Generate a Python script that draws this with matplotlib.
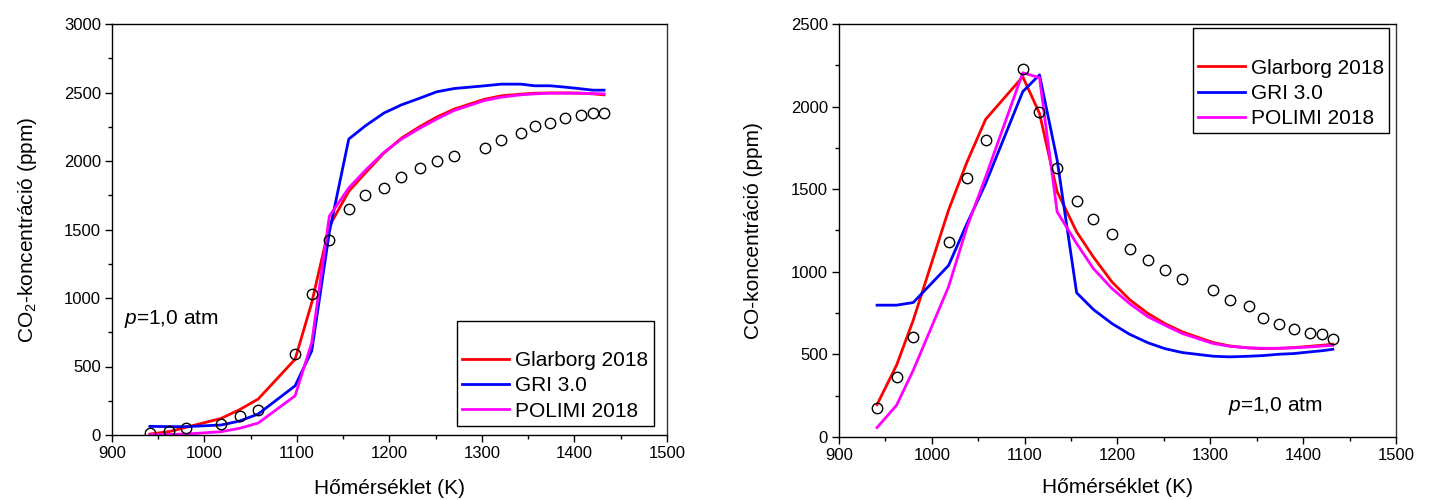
import matplotlib
matplotlib.use("Agg")
import matplotlib.pyplot as plt
from matplotlib.lines import Line2D
from matplotlib.ticker import MultipleLocator

plt.rcParams['font.family'] = ['Liberation Sans', 'DejaVu Sans']
plt.rcParams['mathtext.fontset'] = 'custom'
plt.rcParams['mathtext.rm'] = 'Liberation Sans'
plt.rcParams['mathtext.it'] = 'Liberation Sans:italic'

# Temperatures (K)
T = [941, 962, 980, 1018, 1038, 1058, 1098, 1116, 1135, 1156, 1174, 1194, 1213,
     1233, 1251, 1270, 1303, 1321, 1342, 1357, 1374, 1390, 1407, 1420, 1432]

# CO2 concentration (ppm)
co2_exp = [15, 27, 51, 82, 136, 184, 590, 1032, 1427, 1650, 1752, 1806, 1883,
           1947, 2002, 2034, 2097, 2155, 2206, 2255, 2277, 2311, 2333, 2347, 2350]
co2_glarborg = [7, 25, 56, 121, 185, 262, 553, 966, 1524, 1779, 1913, 2058, 2167,
                2252, 2320, 2379, 2451, 2476, 2488, 2495, 2497, 2497, 2495, 2490, 2483]
co2_gri = [63, 61, 61, 73, 102, 153, 359, 614, 1480, 2160, 2257, 2350, 2410,
           2459, 2505, 2529, 2549, 2561, 2561, 2549, 2549, 2539, 2527, 2517, 2517]
co2_polimi = [2, 4, 7, 24, 49, 87, 286, 675, 1597, 1803, 1932, 2063, 2160,
              2240, 2306, 2369, 2442, 2466, 2483, 2490, 2495, 2495, 2495, 2492, 2490]

# CO concentration (ppm)
co_exp = [178, 364, 606, 1178, 1568, 1800, 2230, 1967, 1630, 1428, 1317, 1228, 1139,
          1069, 1008, 958, 889, 828, 792, 723, 685, 652, 630, 626, 594]
co_glarborg = [196, 434, 707, 1373, 1666, 1923, 2181, 1959, 1485, 1242, 1090, 939, 832,
               747, 687, 636, 572, 551, 539, 535, 537, 541, 549, 555, 562]
co_gri = [798, 798, 814, 1038, 1293, 1535, 2091, 2192, 1677, 873, 772, 687, 622,
          570, 535, 511, 489, 485, 489, 493, 501, 505, 515, 522, 531]
co_polimi = [57, 192, 404, 909, 1272, 1575, 2205, 2175, 1363, 1171, 1020, 899, 808,
             727, 677, 626, 566, 549, 539, 537, 537, 540, 545, 550, 555]

labels = ["Glarborg 2018", "GRI 3.0", "POLIMI 2018"]
colors = ["#ff0000", "#0000ff", "#ff00ff"]

fig = plt.figure(figsize=(14.3, 5.0), dpi=100)
ax1 = fig.add_axes([0.0783, 0.130, 0.3881, 0.822])
ax2 = fig.add_axes([0.5867, 0.126, 0.3895, 0.826])


def style_axes(ax, ymax, ymajor, xpad):
    ax.set_xlim(900, 1500)
    ax.set_ylim(0, ymax)
    ax.xaxis.set_major_locator(MultipleLocator(100))
    ax.xaxis.set_minor_locator(MultipleLocator(50))
    ax.yaxis.set_major_locator(MultipleLocator(ymajor))
    ax.yaxis.set_minor_locator(MultipleLocator(ymajor / 2))
    ax.tick_params(which='both', direction='out', top=False, right=False,
                   labelsize=12, width=1.0, color='black', pad=3)
    ax.tick_params(which='major', length=5)
    ax.tick_params(which='minor', length=3)
    for s in ax.spines.values():
        s.set_linewidth(1.0)
        s.set_color('black')
    ax.spines['right'].set_color('#333333')
    ax.set_xlabel("Hőmérséklet (K)", fontsize=15, labelpad=xpad)


def draw(ax, exp, models):
    for vals, lab, col in zip(models, labels, colors):
        ax.plot(T, vals, color=col, lw=2.0, label=lab, zorder=2)
    ax.plot(T, exp, linestyle='none', marker='o', markersize=7.5,
            markerfacecolor='none', markeredgecolor='black',
            markeredgewidth=1.0, zorder=3)


def add_legend(ax, **kw):
    blank = Line2D([], [], linestyle='none')
    handles = [blank] + [Line2D([], [], color=c, lw=2.0) for c in colors]
    leg = ax.legend(handles, [" "] + labels, fontsize=15, frameon=True,
                    fancybox=False, edgecolor='black', framealpha=1,
                    handlelength=2.25, handletextpad=0.3, labelspacing=0.3,
                    borderpad=0.25, borderaxespad=0, **kw)
    leg.get_frame().set_linewidth(1.0)
    return leg


draw(ax1, co2_exp, [co2_glarborg, co2_gri, co2_polimi])
style_axes(ax1, 3000, 500, 13)
ax1.set_ylabel("CO$_2$-koncentráció (ppm)", fontsize=15, labelpad=18)
add_legend(ax1, loc='lower right', bbox_to_anchor=(0.976, 0.022))
ax1.text(0.022, 0.282, "$p$=1,0 atm", transform=ax1.transAxes,
         fontsize=15, va='center', ha='left')

draw(ax2, co_exp, [co_glarborg, co_gri, co_polimi])
style_axes(ax2, 2500, 500, 11)
ax2.set_ylabel("CO-koncentráció (ppm)", fontsize=15, labelpad=20)
add_legend(ax2, loc='upper right', bbox_to_anchor=(0.988, 0.99))
ax2.text(0.698, 0.075, "$p$=1,0 atm", transform=ax2.transAxes,
         fontsize=15, va='center', ha='left')

fig.savefig("out.png", dpi=100)
